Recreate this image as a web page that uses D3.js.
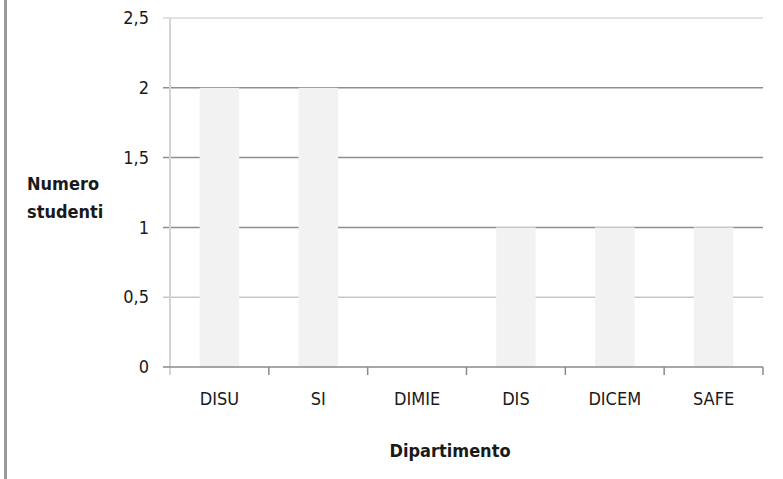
<!DOCTYPE html>
<html>
<head>
<meta charset="utf-8">
<script src="https://cdn.jsdelivr.net/npm/d3@7"></script>
<style>
  body { margin: 0; background: #fff; }
  text { font-family: "Liberation Sans Narrow", "DejaVu Sans Condensed", "Liberation Sans", sans-serif; fill: #1a1a1a; }
</style>
</head>
<body>
<svg></svg>
<script>
var departments = ["DISU", "SI", "DIMIE", "DIS", "DICEM", "SAFE"];
var students = [2, 2, 0, 1, 1, 1];
var yTicks = [0, 0.5, 1, 1.5, 2, 2.5];
var yTitle = ["Numero", "studenti"];
var xTitle = "Dipartimento";

var width = 783;
var height = 479;

var svg = d3.select("svg")
    .attr("width", width)
    .attr("height", height);

var margins = {top: 18, bottom: 112, left: 170, right: 20};

// one slot per category, bars take 40% of it (gap width 150%)
var slot = d3.scaleBand()
    .domain(departments)
    .range([margins.left, width - margins.right]);

var yScale = d3.scaleLinear()
    .domain([0, 2.5])
    .range([height - margins.bottom, margins.top]);

// left frame line
svg.append("rect")
    .attr("x", 4)
    .attr("y", 0)
    .attr("width", 3)
    .attr("height", height)
    .attr("fill", "#9a9a9a");

// gridlines
var gridColor = function(d) {
    if (d == 2.5) return "#d9d9d9";
    if (d == 0.5) return "#c8c8c8";
    return "#8e8e8e";
};
svg.append("g")
    .selectAll("line")
    .data(yTicks.filter(function(d) { return d > 0; }))
    .enter()
    .append("line")
    .attr("x1", margins.left - 7)
    .attr("x2", width - margins.right)
    .attr("y1", function(d) { return yScale(d); })
    .attr("y2", function(d) { return yScale(d); })
    .attr("stroke", gridColor)
    .attr("stroke-width", 1.5);

// bars
var barW = slot.bandwidth() * 0.4;
svg.append("g")
    .selectAll("rect")
    .data(departments)
    .enter()
    .append("rect")
    .attr("x", function(d) { return slot(d) + (slot.bandwidth() - barW) / 2; })
    .attr("width", barW)
    .attr("y", function(d, i) { return yScale(students[i]); })
    .attr("height", function(d, i) { return yScale(0) - yScale(students[i]); })
    .attr("fill", "#f2f2f2");

// y axis
var yAxis = d3.axisLeft(yScale)
    .tickValues(yTicks)
    .tickSize(0)
    .tickPadding(21)
    .tickFormat(function(d) { return String(d).replace(".", ","); });

var gy = svg.append("g")
    .attr("transform", "translate(" + margins.left + ",0)")
    .call(yAxis);
gy.select(".domain").remove();
gy.selectAll("text")
    .style("font-size", "18px")
    .attr("fill", "#1a1a1a");

svg.append("line")
    .attr("x1", margins.left)
    .attr("x2", margins.left)
    .attr("y1", margins.top)
    .attr("y2", yScale(0) + 8)
    .attr("stroke", "#d4d4d4")
    .attr("stroke-width", 2);

// x axis
var xAxis = d3.axisBottom(slot)
    .tickSize(0)
    .tickPadding(25);

var gx = svg.append("g")
    .attr("transform", "translate(0," + yScale(0) + ")")
    .call(xAxis);
gx.select(".domain").remove();
gx.selectAll("text")
    .style("font-size", "18px")
    .attr("fill", "#1a1a1a");

svg.append("line")
    .attr("x1", margins.left - 7)
    .attr("x2", width - margins.right)
    .attr("y1", yScale(0))
    .attr("y2", yScale(0))
    .attr("stroke", "#8a8a8a")
    .attr("stroke-width", 1.5);

// category separators
var edges = departments.map(function(d) { return slot(d); }).concat([width - margins.right]);
svg.append("g")
    .selectAll("line")
    .data(edges.slice(1))
    .enter()
    .append("line")
    .attr("x1", function(d) { return d; })
    .attr("x2", function(d) { return d; })
    .attr("y1", yScale(0))
    .attr("y2", yScale(0) + 8)
    .attr("stroke", "#8a8a8a")
    .attr("stroke-width", 1.5);

// titles
svg.append("text")
    .attr("x", 27)
    .attr("y", 190)
    .style("font-size", "18px")
    .style("font-weight", "bold")
    .selectAll("tspan")
    .data(yTitle)
    .enter()
    .append("tspan")
    .attr("x", 27)
    .attr("dy", function(d, i) { return i == 0 ? 0 : 28; })
    .text(function(d) { return d; });

svg.append("text")
    .attr("x", 450)
    .attr("y", 457)
    .attr("text-anchor", "middle")
    .style("font-size", "18px")
    .style("font-weight", "bold")
    .text(xTitle);
</script>
</body>
</html>
